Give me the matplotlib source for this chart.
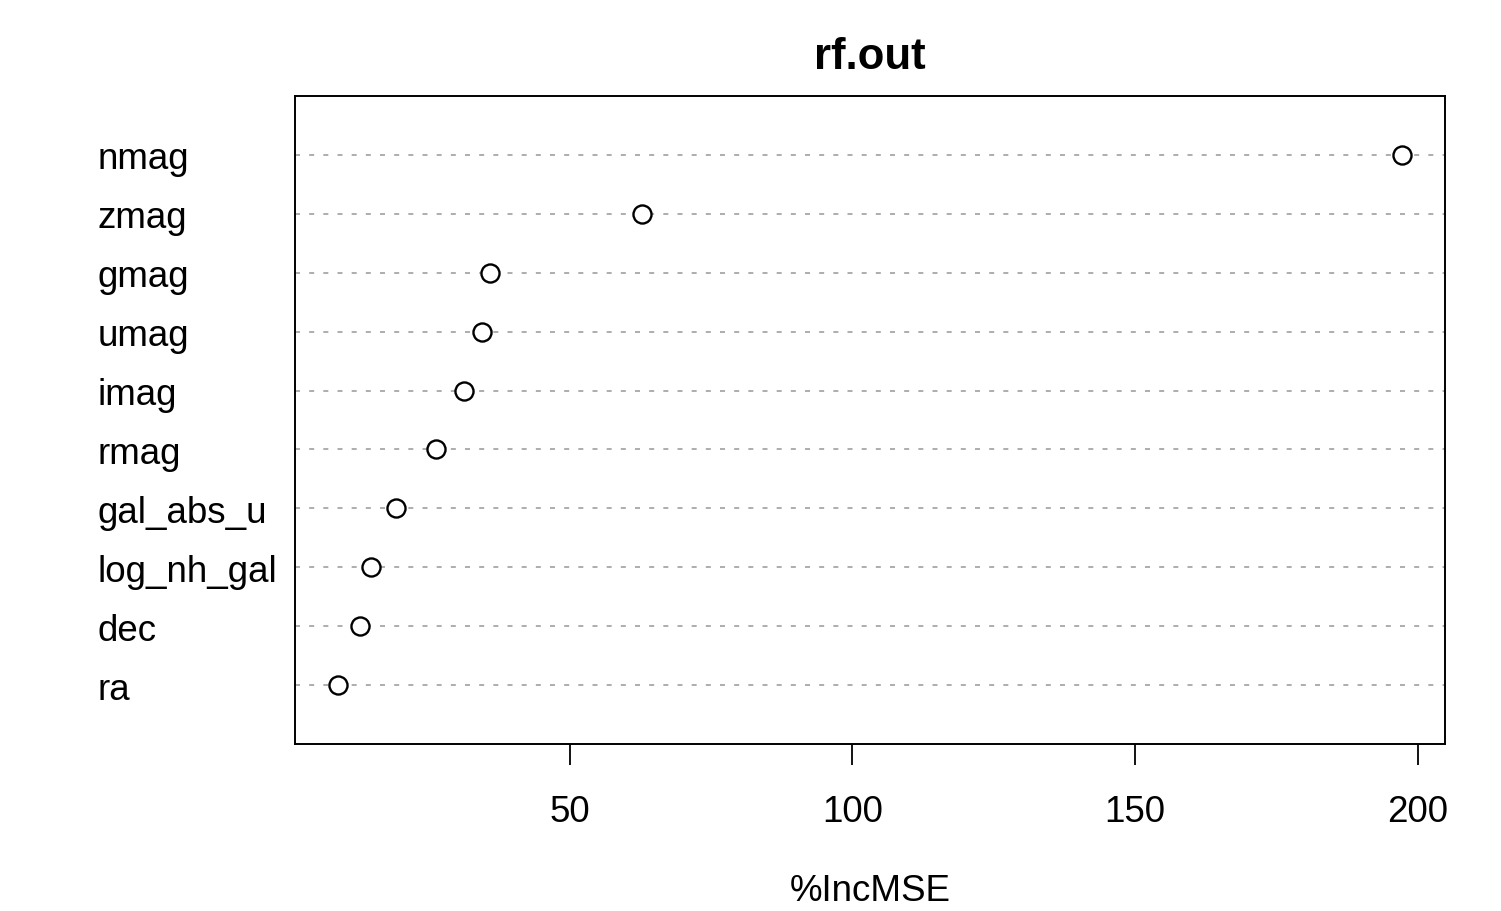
import matplotlib.pyplot as plt

plt.rcParams['font.family'] = ['Liberation Sans', 'DejaVu Sans']

# variables, bottom to top as drawn
variables = ['ra', 'dec', 'log_nh_gal', 'gal_abs_u', 'rmag',
             'imag', 'umag', 'gmag', 'zmag', 'nmag']
inc_mse = [8.9, 12.8, 14.8, 19.2, 26.3, 31.3, 34.5, 35.9, 62.7, 197.3]
xticks = [50, 100, 150, 200]

fig = plt.figure(figsize=(15.01, 9.12), dpi=100)
ax = fig.add_axes([0.1965, 0.1831, 0.7662, 0.7105])

ypos = list(range(1, len(variables) + 1))

# dotted guide lines for each row
for y in ypos:
    ax.axhline(y, color='#a0a0a0', lw=1.2, linestyle=(0, (3, 5.5)), zorder=1)

ax.plot(inc_mse, ypos, linestyle='none', marker='o', markersize=13,
        markerfacecolor='white', markeredgecolor='black',
        markeredgewidth=1.7, zorder=3)

span = max(inc_mse) - min(inc_mse)
ax.set_xlim(min(inc_mse) - 0.04 * span, max(inc_mse) + 0.04 * span)
ax.set_ylim(0, len(variables) + 1)

ax.set_xticks(xticks)
ax.set_xticklabels([str(t) for t in xticks], fontsize=26.5)
ax.tick_params(axis='x', direction='out', length=15, width=1.3, pad=21)

ax.set_yticks(ypos)
ax.set_yticklabels(variables, fontsize=26.5)
ax.tick_params(axis='y', length=0, pad=142)
for lab in ax.get_yticklabels():
    lab.set_horizontalalignment('left')

for sp in ax.spines.values():
    sp.set_linewidth(1.4)

ax.set_title('rf.out', fontsize=31.5, fontweight='bold', pad=20)
ax.set_xlabel('%IncMSE', fontsize=26.5, labelpad=32)

plt.savefig('out.png', dpi=100)
